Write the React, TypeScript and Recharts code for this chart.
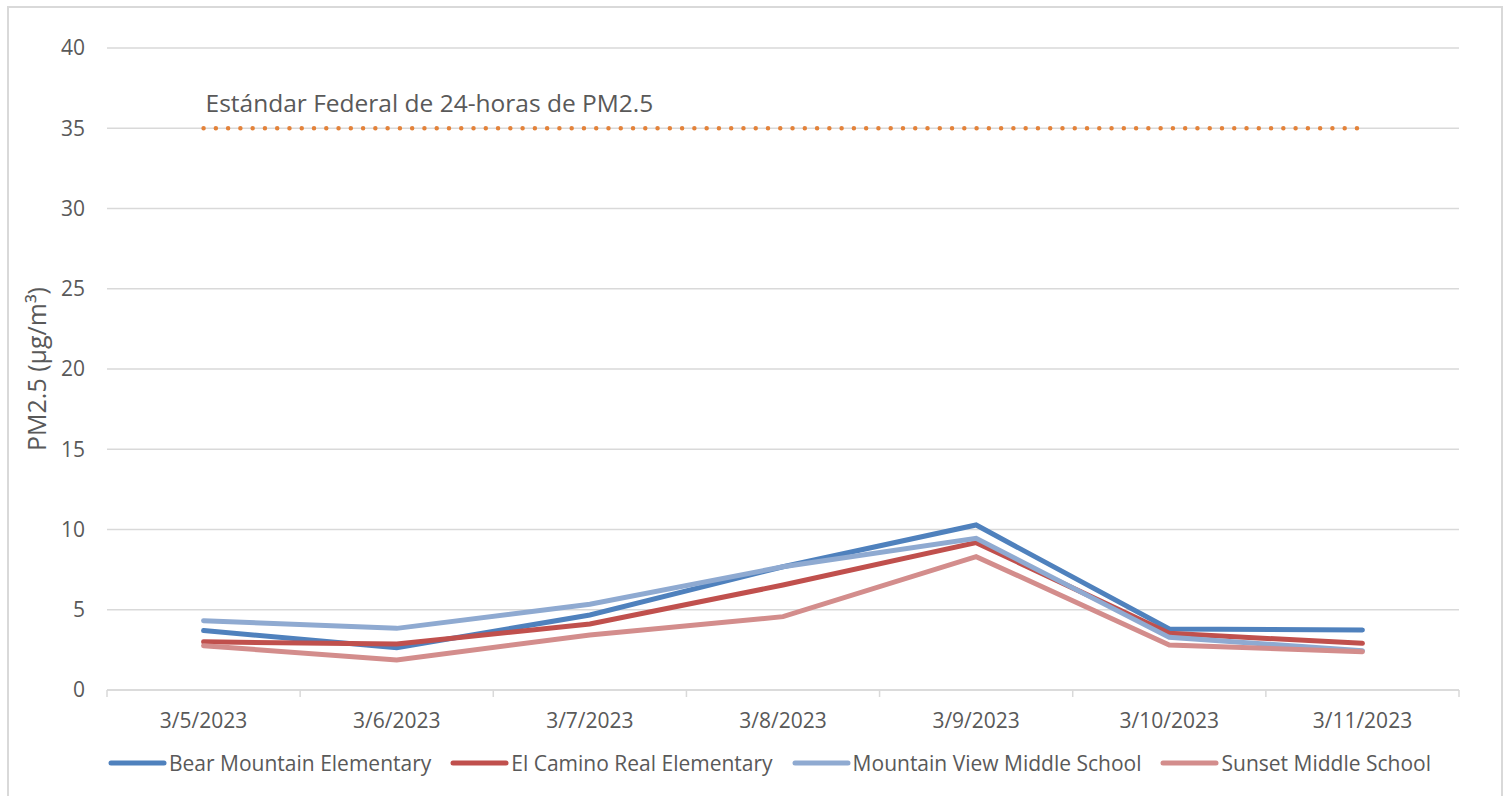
import React from "react";
import { CartesianGrid, Legend, Line, LineChart, XAxis, YAxis } from "recharts";

const dates = ["3/5/2023", "3/6/2023", "3/7/2023", "3/8/2023", "3/9/2023", "3/10/2023", "3/11/2023"];
const bearMountain = [3.7, 2.64, 4.67, 7.68, 10.28, 3.8, 3.74];
const elCamino = [3.0, 2.87, 4.11, 6.54, 9.18, 3.53, 2.91];
const mountainView = [4.32, 3.84, 5.34, 7.68, 9.45, 3.28, 2.45];
const sunset = [2.76, 1.87, 3.43, 4.57, 8.31, 2.8, 2.39];
const federalStandard = [35, 35, 35, 35, 35, 35, 35];
const yTicks = [0, 5, 10, 15, 20, 25, 30, 35, 40];

const series = [
  { key: "bear", name: "Bear Mountain Elementary", color: "#4F81BD" },
  { key: "elcamino", name: "El Camino Real Elementary", color: "#C0504D" },
  { key: "mtnview", name: "Mountain View Middle School", color: "#8FAAD1" },
  { key: "sunset", name: "Sunset Middle School", color: "#D38D8C" },
];

const data = dates.map((date, i) => ({
  date,
  bear: bearMountain[i],
  elcamino: elCamino[i],
  mtnview: mountainView[i],
  sunset: sunset[i],
  standard: federalStandard[i],
}));

const W = 1507;
const H = 796;
const LEFT = 107;
const RIGHT = 48;
const band = (W - LEFT - RIGHT) / dates.length;
const textColor = "#595959";
const gridColor = "#D9D9D9";
const font = "'Open Sans', sans-serif";

function DateTick(props: any) {
  const { x, y, payload, index } = props;
  const half = band / 2;
  return (
    <g>
      <line x1={x - half} x2={x - half} y1={y - 7} y2={y} stroke={gridColor} strokeWidth={1.5} />
      {index === dates.length - 1 && (
        <line x1={x + half} x2={x + half} y1={y - 7} y2={y} stroke={gridColor} strokeWidth={1.5} />
      )}
      <text x={x} y={y + 31} textAnchor="middle" fill={textColor} fontSize={21} fontFamily={font}>
        {payload.value}
      </text>
    </g>
  );
}

function LegendBox() {
  return (
    <div style={{ display: "flex", gap: 18, paddingLeft: 107, fontFamily: font, fontSize: 21, color: textColor }}>
      {series.map((s) => (
        <div key={s.key} style={{ display: "flex", alignItems: "center" }}>
          <svg width={60} height={10} style={{ marginRight: 2 }}>
            <line x1={4} x2={57} y1={5} y2={5} stroke={s.color} strokeWidth={5} strokeLinecap="round" />
          </svg>
          <span>{s.name}</span>
        </div>
      ))}
    </div>
  );
}

export default function App() {
  return (
    <div style={{ position: "absolute", left: 0, top: 0, width: W, height: H, overflow: "hidden", background: "#fff" }}>
      <div
        style={{
          position: "absolute",
          left: 7,
          top: 6,
          width: 1492,
          height: 830,
          border: `2px solid ${gridColor}`,
        }}
      />
      <div style={{ position: "absolute", left: 0, top: 0 }}>
        <LineChart width={W} height={H} data={data} margin={{ top: 48, right: RIGHT, left: 0, bottom: 66 }}>
          <CartesianGrid vertical={false} stroke={gridColor} strokeWidth={1.5} />
          <XAxis
            dataKey="date"
            height={40}
            padding={{ left: band / 2, right: band / 2 }}
            axisLine={{ stroke: gridColor, strokeWidth: 1.5 }}
            tickLine={false}
            tickSize={7}
            tickMargin={0}
            tick={<DateTick />}
            interval={0}
          />
          <YAxis
            width={LEFT}
            domain={[0, 40]}
            ticks={yTicks}
            axisLine={false}
            tickLine={false}
            tickSize={0}
            tickMargin={22}
            tick={{ fill: textColor, fontSize: 21, fontFamily: font }}
            label={{
              content: (p: any) => {
                const vb = p.viewBox;
                const cx = 36;
                const cy = vb.y + vb.height / 2;
                return (
                  <text
                    x={cx}
                    y={cy}
                    transform={`rotate(-90 ${cx} ${cy})`}
                    textAnchor="middle"
                    dominantBaseline="central"
                    fill={textColor}
                    fontSize={25}
                    fontFamily={font}
                  >
                    PM2.5 (µg/m³)
                  </text>
                );
              },
            }}
          />
          <Legend
            layout="horizontal"
            verticalAlign="middle"
            align="center"
            wrapperStyle={{ top: 749, left: 0, width: W }}
            content={<LegendBox />}
          />
          <Line
            dataKey="standard"
            name="Estándar Federal de 24-horas de PM2.5"
            stroke="#E3823A"
            strokeWidth={4.5}
            strokeDasharray="0 12.27"
            strokeLinecap="round"
            dot={false}
            activeDot={false}
            isAnimationActive={false}
            legendType="none"
            label={(p: any) =>
              p.index === 0 ? (
                <text x={p.x + 2} y={p.y - 16} fill={textColor} fontSize={24.5} fontFamily={font}>
                  Estándar Federal de 24-horas de PM2.5
                </text>
              ) : (
                <g />
              )
            }
          />
          {series.map((s) => (
            <Line
              key={s.key}
              dataKey={s.key}
              name={s.name}
              stroke={s.color}
              strokeWidth={5}
              strokeLinecap="round"
              dot={false}
              activeDot={false}
              isAnimationActive={false}
            />
          ))}
        </LineChart>
      </div>
    </div>
  );
}
